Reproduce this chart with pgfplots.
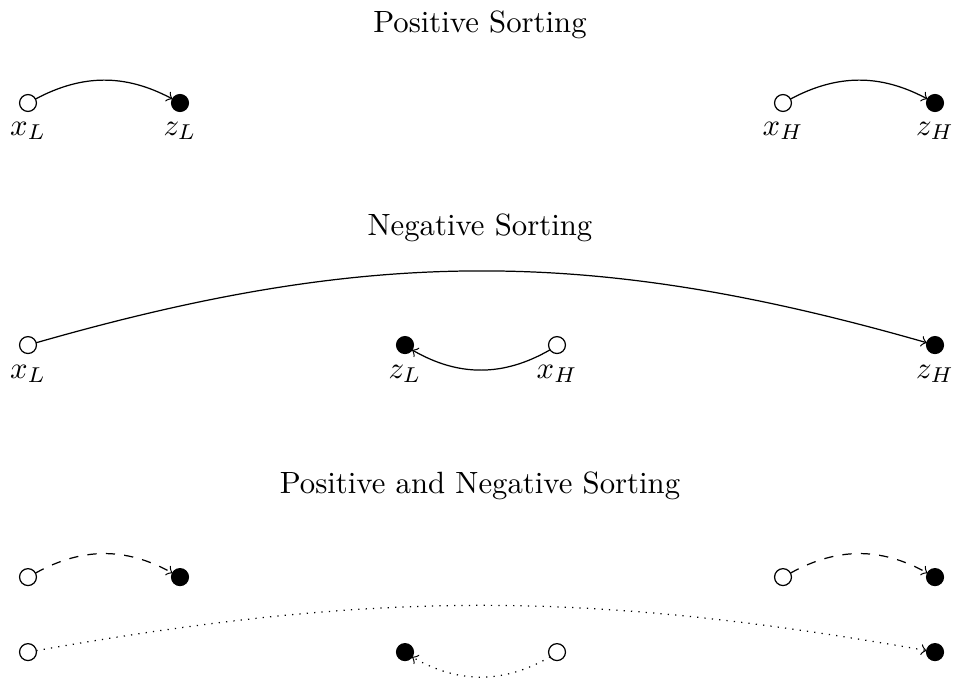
\documentclass[border=0pt]{standalone}
\usepackage{pgfplots}
\pgfplotsset{compat=1.18}

\begin{document}
\begin{tikzpicture}
\begin{axis}[
    width=310pt, height=222.2pt, scale only axis,
    xmin=0, xmax=953, ymin=0, ymax=683, y dir=reverse,
    hide axis, clip=false,
  ]
  % sources x (open) and destinations z (filled)
  \addplot[only marks, mark=*, mark size=2.75pt, mark options={fill=white, draw=black, line width=0.4pt}]
    coordinates {(28,103) (783,103) (28,345) (557,345) (28,577) (783,577) (28,652) (557,652)};
  \addplot[only marks, mark=*, mark size=2.75pt, mark options={fill=black, draw=black}]
    coordinates {(180,103) (935,103) (405,345) (935,345) (180,577) (935,577) (405,652) (935,652)};

  % point labels
  \addplot[draw=none, nodes near coords, point meta=explicit symbolic,
           nodes near coords style={anchor=center, inner sep=0pt}]
    coordinates {(28,131)[$x_L$] (180,131)[$z_L$] (783,131)[$x_H$] (935,131)[$z_H$]
                 (28,374)[$x_L$] (405,374)[$z_L$] (557,374)[$x_H$] (935,374)[$z_H$]};

  % panel titles
  \node[anchor=base] at (axis cs:480,33) {Positive Sorting};
  \node[anchor=base] at (axis cs:480,235) {Negative Sorting};
  \node[anchor=base] at (axis cs:480,493) {Positive and Negative Sorting};

  % positive sorting
  \draw[->] (axis cs:35.5,99) to[bend left=28] (axis cs:172.5,99);
  \draw[->] (axis cs:790.5,99) to[bend left=28] (axis cs:927.5,99);
  % negative sorting
  \draw[->] (axis cs:36.2,342.7) to[bend left=16] (axis cs:926.8,342.7);
  \draw[->] (axis cs:550,349.8) to[bend left=30] (axis cs:412,349.8);
  % both
  \draw[->, dashed] (axis cs:35.5,573) to[bend left=29] (axis cs:172.5,573);
  \draw[->, dashed] (axis cs:790.5,573) to[bend left=29] (axis cs:927.5,573);
  \draw[->, dotted] (axis cs:36.4,650.5) to[bend left=10] (axis cs:926.6,650.5);
  \draw[->, dotted] (axis cs:550,656.8) to[bend left=30] (axis cs:412,656.8);

  \coordinate (bl) at (rel axis cs:0,0);
  \coordinate (tr) at (rel axis cs:1,1);
\end{axis}
\pgfresetboundingbox
\useasboundingbox (bl) rectangle (tr);
\end{tikzpicture}
\end{document}
